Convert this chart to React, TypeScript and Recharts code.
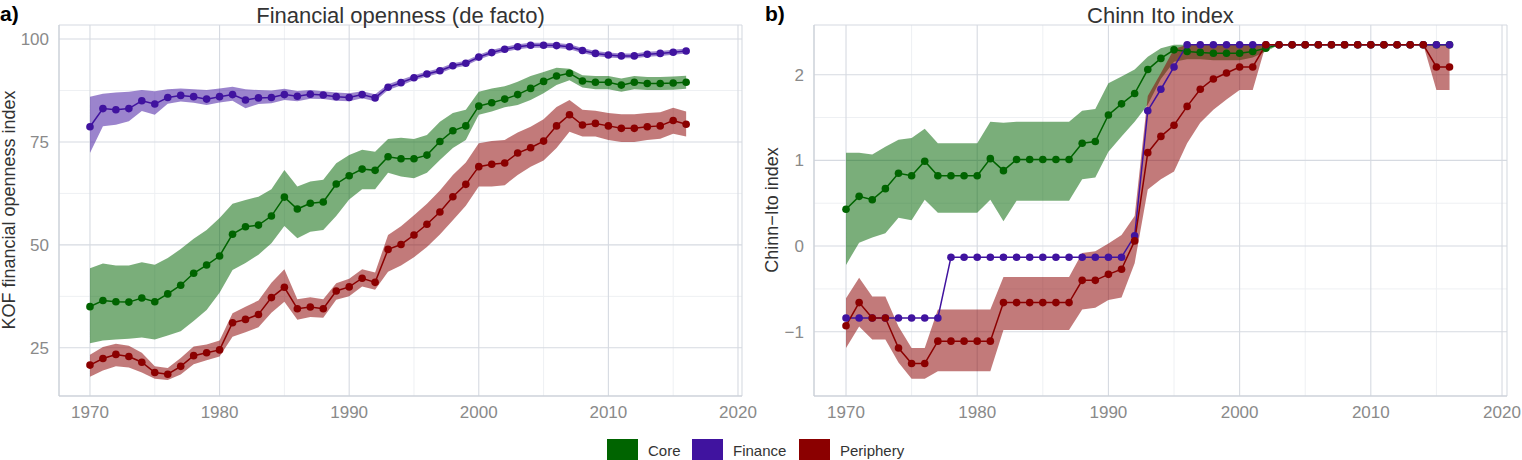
import React from "react";
import { ComposedChart, Line, Area, XAxis, YAxis, CartesianGrid } from "recharts";

const FONT = "'Liberation Sans', Arial, Helvetica, sans-serif";

const CORE = "#006400";
const FINANCE = "#40139f";
const PERIPHERY = "#8b0000";

const years = [
  1970, 1971, 1972, 1973, 1974, 1975, 1976, 1977, 1978, 1979,
  1980, 1981, 1982, 1983, 1984, 1985, 1986, 1987, 1988, 1989,
  1990, 1991, 1992, 1993, 1994, 1995, 1996, 1997, 1998, 1999,
  2000, 2001, 2002, 2003, 2004, 2005, 2006, 2007, 2008, 2009,
  2010, 2011, 2012, 2013, 2014, 2015, 2016,
];

const xTicks = [1970, 1980, 1990, 2000, 2010, 2020];
const xMinor = [1975, 1985, 1995, 2005, 2015];

// a) KOF financial openness (de facto)
const kofCore = [
  35.0, 36.5, 36.2, 36.1, 37.1, 36.2, 38.1, 40.2, 43.1, 45.1,
  47.3, 52.6, 54.4, 54.8, 57.0, 61.6, 58.7, 60.1, 60.4, 64.8,
  66.8, 68.4, 68.1, 71.4, 70.9, 70.9, 71.8, 75.1, 77.7, 78.9,
  83.7, 84.5, 85.4, 86.5, 88.0, 89.7, 91.0, 91.7, 89.8, 89.5,
  89.5, 88.8, 89.5, 89.2, 89.2, 89.3, 89.5,
];
const kofCoreLo = [
  26.1, 26.8, 27.0, 27.2, 27.5, 27.0, 28.0, 29.0, 31.5, 34.2,
  38.4, 43.9, 45.6, 47.6, 50.4, 54.6, 51.6, 53.2, 53.6, 57.0,
  61.0, 63.5, 63.5, 67.5, 66.6, 66.2, 67.5, 70.6, 73.5, 75.5,
  81.6, 82.4, 83.4, 84.0, 85.2, 86.8, 88.8, 90.0, 88.2, 87.8,
  87.8, 87.2, 87.8, 87.6, 87.6, 87.7, 87.9,
];
const kofCoreHi = [
  44.3, 45.5, 45.0, 45.0, 45.8, 45.2, 46.8, 49.0, 51.5, 53.6,
  56.5, 60.0, 60.9, 61.7, 63.5, 68.2, 64.2, 65.4, 65.8, 69.8,
  71.8, 73.1, 72.6, 75.7, 76.0, 75.7, 76.7, 79.9, 82.0, 82.8,
  87.2, 88.0, 88.5, 89.6, 91.0, 92.0, 93.0, 92.8, 91.2, 91.0,
  91.0, 90.4, 91.0, 90.8, 90.8, 90.9, 91.1,
];
const kofFinance = [
  78.7, 83.1, 82.8, 83.1, 85.0, 84.2, 85.8, 86.3, 86.0, 85.4,
  86.0, 86.5, 85.2, 85.7, 85.8, 86.5, 86.1, 86.6, 86.4, 86.0,
  85.8, 86.5, 85.7, 88.3, 89.4, 90.6, 91.5, 92.3, 93.5, 94.1,
  95.6, 96.7, 97.5, 98.1, 98.5, 98.5, 98.4, 98.1, 97.2, 96.5,
  96.1, 95.9, 95.9, 96.3, 96.5, 96.8, 97.1,
];
const kofFinanceLo = [
  72.3, 78.8, 79.2, 80.0, 82.5, 81.6, 84.3, 84.8, 84.5, 84.0,
  84.6, 85.0, 83.2, 84.2, 84.4, 85.2, 84.9, 85.5, 85.4, 85.0,
  84.9, 85.6, 84.9, 87.6, 88.7, 90.0, 90.9, 91.7, 92.9, 93.5,
  95.0, 96.1, 96.9, 97.5, 97.9, 97.9, 97.8, 97.5, 96.6, 95.9,
  95.5, 95.3, 95.3, 95.7, 95.9, 96.2, 96.5,
];
const kofFinanceHi = [
  86.0, 86.7, 87.0, 87.2, 87.6, 87.3, 87.8, 88.0, 87.8, 87.6,
  88.0, 88.4, 87.8, 87.6, 87.5, 87.9, 87.4, 87.6, 87.3, 87.0,
  86.8, 87.3, 86.6, 89.0, 90.1, 91.2, 92.1, 92.9, 94.1, 94.7,
  96.2, 97.3, 98.1, 98.7, 99.1, 99.1, 99.0, 98.7, 97.8, 97.1,
  96.7, 96.5, 96.5, 96.9, 97.1, 97.4, 97.7,
];
const kofPeriphery = [
  20.8, 22.4, 23.4, 22.9, 21.5, 19.0, 18.6, 20.5, 23.1, 23.8,
  24.5, 31.1, 31.9, 33.1, 37.2, 39.7, 34.5, 34.9, 34.5, 38.8,
  39.8, 41.9, 40.9, 48.9, 50.1, 52.4, 55.0, 58.0, 61.7, 64.7,
  69.0, 69.6, 69.9, 72.3, 73.6, 75.2, 78.9, 81.6, 79.1, 79.5,
  78.9, 78.3, 78.3, 78.7, 78.9, 80.2, 79.3,
];
const kofPeripheryLo = [
  18.0, 19.5, 20.5, 20.2, 19.0, 17.5, 17.2, 18.5, 21.0, 22.0,
  22.9, 27.7, 28.8, 30.0, 33.5, 36.2, 31.8, 32.5, 32.3, 36.7,
  37.5, 39.9, 39.1, 43.5, 45.0, 47.0, 49.5, 52.5, 56.0, 59.5,
  64.2, 64.2, 64.5, 67.0, 69.0, 70.5, 73.5, 77.5, 76.3, 76.3,
  75.5, 75.0, 75.0, 75.5, 75.8, 77.0, 76.3,
];
const kofPeripheryHi = [
  23.3, 25.2, 26.0, 25.5, 23.8, 20.5, 20.1, 22.5, 25.3, 25.8,
  26.8, 33.4, 35.0, 36.5, 40.8, 44.1, 36.8, 37.3, 36.8, 40.7,
  41.8, 44.1, 43.3, 52.4, 54.5, 57.2, 60.0, 63.2, 67.0, 70.0,
  74.7, 75.2, 75.5, 77.3, 78.7, 80.5, 83.5, 85.2, 82.8, 82.6,
  82.0, 81.7, 81.7, 82.0, 82.2, 83.3, 82.4,
];
const kofTicks = [25, 50, 75, 100];
const kofMinor = [37.5, 62.5, 87.5];

// b) Chinn-Ito index
const ciCore = [
  0.43, 0.58, 0.54, 0.67, 0.85, 0.82, 0.99, 0.82, 0.82, 0.82,
  0.82, 1.02, 0.88, 1.01, 1.01, 1.01, 1.01, 1.01, 1.2, 1.22,
  1.53, 1.66, 1.78, 2.06, 2.19, 2.29, 2.27, 2.26, 2.25, 2.25,
  2.25, 2.27, 2.31, 2.35, 2.35, 2.35, 2.35, 2.35, 2.35, 2.35,
  2.35, 2.35, 2.35, 2.35, 2.35, 2.35, 2.35,
];
const ciCoreLo = [
  -0.22, 0.04, 0.1, 0.15, 0.33, 0.3, 0.54, 0.39, 0.39, 0.39,
  0.39, 0.54, 0.29, 0.53, 0.53, 0.53, 0.53, 0.53, 0.78, 0.8,
  1.1, 1.28, 1.45, 1.65, 1.95, 2.15, 2.18, 2.18, 2.17, 2.17,
  2.17, 2.2, 2.27, 2.35, 2.35, 2.35, 2.35, 2.35, 2.35, 2.35,
  2.35, 2.35, 2.35, 2.35, 2.35, 2.35, 2.35,
];
const ciCoreHi = [
  1.09, 1.09, 1.07, 1.16, 1.24, 1.26, 1.37, 1.2, 1.2, 1.2,
  1.2, 1.45, 1.44, 1.45, 1.45, 1.45, 1.45, 1.45, 1.58, 1.6,
  1.9, 1.98, 2.06, 2.21, 2.31, 2.35, 2.35, 2.35, 2.35, 2.35,
  2.35, 2.35, 2.35, 2.35, 2.35, 2.35, 2.35, 2.35, 2.35, 2.35,
  2.35, 2.35, 2.35, 2.35, 2.35, 2.35, 2.35,
];
const ciFinance = [
  -0.84, -0.84, -0.84, -0.84, -0.84, -0.84, -0.84, -0.84, -0.13, -0.13,
  -0.13, -0.13, -0.13, -0.13, -0.13, -0.13, -0.13, -0.13, -0.13, -0.13,
  -0.13, -0.13, 0.12, 1.58, 1.83, 2.09, 2.35, 2.35, 2.35, 2.35,
  2.35, 2.35, 2.35, 2.35, 2.35, 2.35, 2.35, 2.35, 2.35, 2.35,
  2.35, 2.35, 2.35, 2.35, 2.35, 2.35, 2.35,
];
const ciPeriphery = [
  -0.93, -0.66, -0.84, -0.84, -1.19, -1.37, -1.37, -1.11, -1.11, -1.11,
  -1.11, -1.11, -0.66, -0.66, -0.66, -0.66, -0.66, -0.66, -0.4, -0.4,
  -0.33, -0.27, 0.06, 1.09, 1.28, 1.41, 1.63, 1.83, 1.95, 2.02,
  2.09, 2.09, 2.35, 2.35, 2.35, 2.35, 2.35, 2.35, 2.35, 2.35,
  2.35, 2.35, 2.35, 2.35, 2.35, 2.09, 2.09,
];
const ciPeripheryLo = [
  -1.19, -0.94, -1.09, -1.09, -1.36, -1.55, -1.55, -1.46, -1.46, -1.46,
  -1.46, -1.46, -0.98, -0.98, -0.98, -0.98, -0.98, -0.98, -0.74, -0.72,
  -0.63, -0.6, -0.2, 0.66, 0.78, 0.87, 1.2, 1.44, 1.59, 1.71,
  1.82, 1.82, 2.35, 2.35, 2.35, 2.35, 2.35, 2.35, 2.35, 2.35,
  2.35, 2.35, 2.35, 2.35, 2.35, 1.82, 1.82,
];
const ciPeripheryHi = [
  -0.61, -0.37, -0.59, -0.59, -0.94, -1.19, -1.19, -0.74, -0.74, -0.74,
  -0.74, -0.74, -0.36, -0.36, -0.36, -0.36, -0.36, -0.36, -0.08, -0.06,
  0.03, 0.13, 0.35, 1.75, 2.02, 2.3, 2.35, 2.35, 2.35, 2.35,
  2.35, 2.35, 2.35, 2.35, 2.35, 2.35, 2.35, 2.35, 2.35, 2.35,
  2.35, 2.35, 2.35, 2.35, 2.35, 2.35, 2.35,
];
const ciTicks = [-1, 0, 1, 2];
const ciMinor = [-0.5, 0.5, 1.5];

const legendItems = [
  { name: "Core", color: CORE },
  { name: "Finance", color: FINANCE },
  { name: "Periphery", color: PERIPHERY },
];

interface Row {
  year: number;
  core: number;
  finance: number;
  periphery: number;
  coreBand: [number, number];
  financeBand?: [number, number];
  peripheryBand: [number, number];
}

const kofRows: Row[] = years.map((year, i) => ({
  year,
  core: kofCore[i],
  finance: kofFinance[i],
  periphery: kofPeriphery[i],
  coreBand: [kofCoreLo[i], kofCoreHi[i]],
  financeBand: [kofFinanceLo[i], kofFinanceHi[i]],
  peripheryBand: [kofPeripheryLo[i], kofPeripheryHi[i]],
}));

const ciRows: Row[] = years.map((year, i) => ({
  year,
  core: ciCore[i],
  finance: ciFinance[i],
  periphery: ciPeriphery[i],
  coreBand: [ciCoreLo[i], ciCoreHi[i]],
  peripheryBand: [ciPeripheryLo[i], ciPeripheryHi[i]],
}));

const minus = (v: number) => String(v).replace("-", "\u2212");

interface PanelProps {
  data: Row[];
  width: number;
  yWidth: number;
  rightMargin: number;
  xDomain: [number, number];
  yDomain: [number, number];
  yTicks: number[];
  yMinor: number[];
  bands: { key: string; color: string }[];
}

const Panel: React.FC<PanelProps> = ({
  data,
  width,
  yWidth,
  rightMargin,
  xDomain,
  yDomain,
  yTicks,
  yMinor,
  bands,
}) => {
  const tick = { fill: "#8a8a8a", fontSize: 17, fontFamily: FONT };
  const dot = (c: string) => ({ r: 3.8, fill: c, stroke: c, strokeWidth: 0 });
  return (
    <ComposedChart
      width={width}
      height={430}
      data={data}
      margin={{ top: 25, right: rightMargin, bottom: 4, left: 0 }}
      style={{ fontFamily: FONT }}
    >
      <CartesianGrid
        stroke="#eef0f3"
        strokeWidth={1}
        verticalValues={xMinor}
        horizontalValues={yMinor}
      />
      <CartesianGrid stroke="#d6dae1" strokeWidth={1.1} />
      <XAxis
        type="number"
        dataKey="year"
        domain={xDomain}
        ticks={xTicks}
        interval={0}
        allowDataOverflow
        tickLine={false}
        tickMargin={4}
        height={30}
        axisLine={{ stroke: "#c9ced6" }}
        tick={tick}
      />
      <YAxis
        type="number"
        domain={yDomain}
        ticks={yTicks}
        interval={0}
        allowDataOverflow
        tickLine={false}
        tickMargin={4}
        width={yWidth}
        axisLine={{ stroke: "#c9ced6" }}
        tick={tick}
        tickFormatter={minus}
      />
      {bands.map((b) => (
        <Area
          key={b.key}
          type="linear"
          dataKey={b.key}
          stroke="none"
          fill={b.color}
          fillOpacity={0.52}
          dot={false}
          activeDot={false}
          isAnimationActive={false}
        />
      ))}
      <Line
        type="linear"
        dataKey="core"
        stroke={CORE}
        strokeWidth={1.5}
        dot={dot(CORE)}
        activeDot={false}
        isAnimationActive={false}
      />
      <Line
        type="linear"
        dataKey="finance"
        stroke={FINANCE}
        strokeWidth={1.5}
        dot={dot(FINANCE)}
        activeDot={false}
        isAnimationActive={false}
      />
      <Line
        type="linear"
        dataKey="periphery"
        stroke={PERIPHERY}
        strokeWidth={1.5}
        dot={dot(PERIPHERY)}
        activeDot={false}
        isAnimationActive={false}
      />
    </ComposedChart>
  );
};

const App: React.FC = () => {
  return (
    <div
      style={{
        position: "absolute",
        left: 0,
        top: 0,
        width: 1522,
        height: 460,
        overflow: "hidden",
        background: "#fff",
        fontFamily: FONT,
      }}
    >
      <div style={{ position: "absolute", left: 0, top: 0 }}>
        <Panel
          data={kofRows}
          width={760}
          yWidth={59}
          rightMargin={18}
          xDomain={[1967.61, 2020.31]}
          yDomain={[13.3, 103.4]}
          yTicks={kofTicks}
          yMinor={kofMinor}
          bands={[
            { key: "coreBand", color: CORE },
            { key: "financeBand", color: FINANCE },
            { key: "peripheryBand", color: PERIPHERY },
          ]}
        />
      </div>
      <div style={{ position: "absolute", left: 760, top: 0 }}>
        <Panel
          data={ciRows}
          width={762}
          yWidth={54}
          rightMargin={15}
          xDomain={[1967.56, 2020.38]}
          yDomain={[-1.75, 2.58]}
          yTicks={ciTicks}
          yMinor={ciMinor}
          bands={[
            { key: "coreBand", color: CORE },
            { key: "peripheryBand", color: PERIPHERY },
          ]}
        />
      </div>
      <svg
        width={1522}
        height={460}
        style={{ position: "absolute", left: 0, top: 0, pointerEvents: "none" }}
      >
        <g fontFamily={FONT}>
          <text x={0} y={21} fontSize={21} fontWeight="bold" fill="#000">
            a)
          </text>
          <text x={765} y={21} fontSize={21} fontWeight="bold" fill="#000">
            b)
          </text>
          <text x={400.5} y={23} fontSize={22} textAnchor="middle" fill="#333">
            Financial openness (de facto)
          </text>
          <text x={1160.5} y={23} fontSize={22} textAnchor="middle" fill="#333">
            Chinn Ito index
          </text>
          <text
            x={14.5}
            y={210}
            fontSize={18}
            textAnchor="middle"
            fill="#333"
            transform="rotate(-90 14.5 210)"
          >
            KOF financial openness index
          </text>
          <text
            x={778}
            y={210}
            fontSize={18}
            textAnchor="middle"
            fill="#333"
            transform="rotate(-90 778 210)"
          >
            Chinn{"\u2212"}Ito index
          </text>
          {legendItems.map((item, i) => {
            const left = [607, 692, 799][i];
            return (
              <g key={item.name}>
                <rect x={left} y={439} width={31} height={32} fill={item.color} />
                <text x={left + 41} y={456} fontSize={15} fill="#333">
                  {item.name}
                </text>
              </g>
            );
          })}
        </g>
      </svg>
    </div>
  );
};

export default App;
